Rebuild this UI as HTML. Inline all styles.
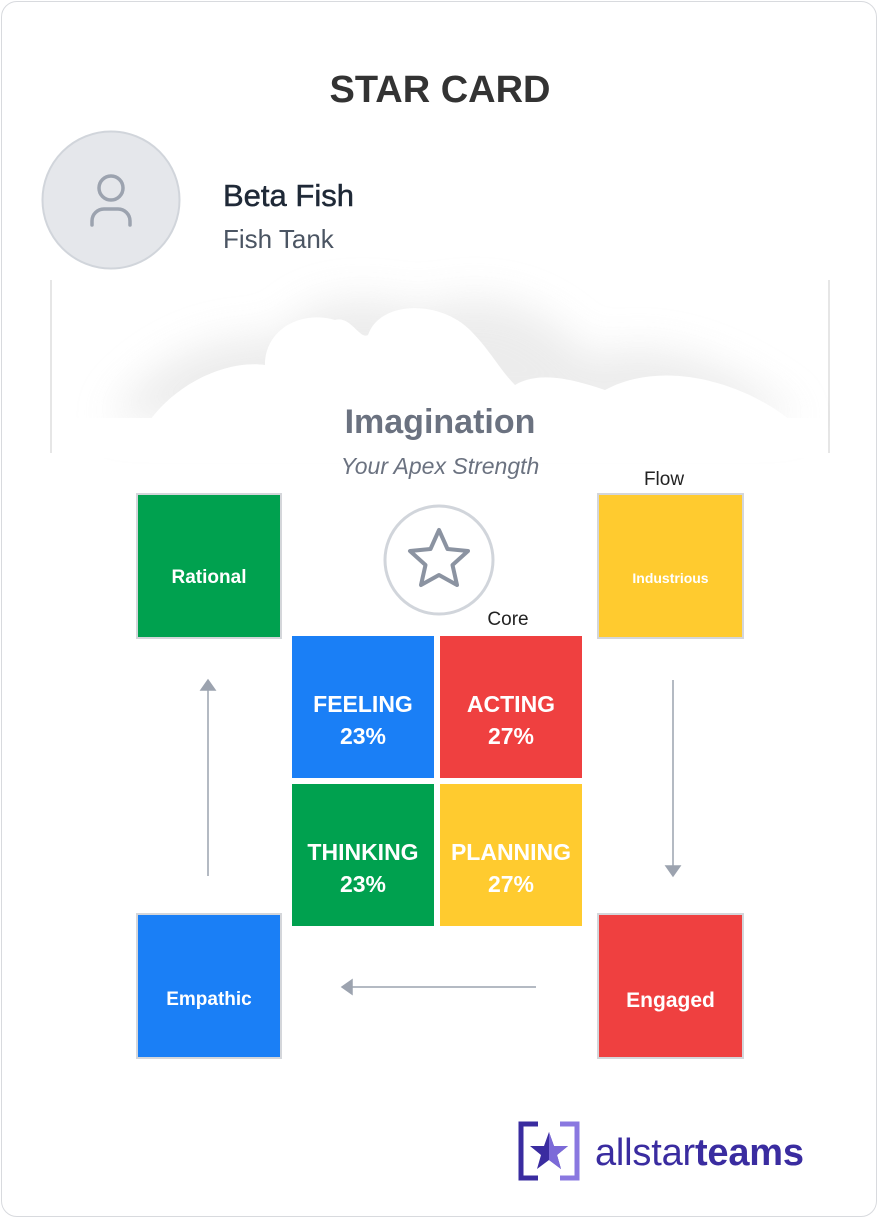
<!DOCTYPE html>
<html><head><style>
body{margin:0;background:#fff;width:880px;height:1220px;position:relative;font-family:"Liberation Sans",sans-serif;overflow:hidden}
.card{position:absolute;left:1px;top:1px;width:876px;height:1216px;border:1px solid #d8dade;border-radius:16px;box-sizing:border-box}
.abs{position:absolute}
.box{position:absolute;display:flex;align-items:center;justify-content:center;color:#fff;font-weight:bold;box-sizing:border-box;border:2px solid #d4d6da;text-align:center;padding-top:24px}
.q{position:absolute;width:142px;height:142px;display:flex;align-items:center;justify-content:center;color:#fff;font-size:23px;font-weight:bold;line-height:32px;text-align:center;padding-top:26px;box-sizing:border-box}
</style></head><body>
<div class="card"></div>
<div class="abs" style="left:0;width:880px;top:69px;text-align:center;font-size:38px;font-weight:bold;color:#333">STAR CARD</div>
<svg class="abs" style="left:0;top:0" width="880" height="1220">
 <defs><filter id="b" x="-20%" y="-50%" width="140%" height="200%"><feGaussianBlur stdDeviation="20"/></filter></defs>
 <circle cx="111" cy="200" r="68.5" fill="#e5e7eb" stroke="#d1d5db" stroke-width="2"/>
 <circle cx="111" cy="188" r="12" fill="none" stroke="#9ca3af" stroke-width="3.5"/>
 <path d="M92 225 v-4 a12 12 0 0 1 12 -12 h14 a12 12 0 0 1 12 12 v4" fill="none" stroke="#9ca3af" stroke-width="3.5" stroke-linecap="round"/>
 <line x1="51" y1="280" x2="51" y2="453" stroke="#ccc"/>
 <line x1="829" y1="280" x2="829" y2="453" stroke="#ccc"/>
 <path d="M110 420 C150 360,220 330,280 340 C300 300,360 290,420 310 C500 280,560 320,590 360 C650 330,740 370,800 420 Z" fill="#e4e4e4" filter="url(#b)" opacity="0.7"/>
 <g fill="#fff">
  <path d="M150 420 C180 380,230 360,265 365 C265 330,300 310,335 320 C350 315,360 340,368 335 C380 300,440 300,470 330 C490 350,500 370,515 385 C540 370,575 380,605 390 C660 360,740 380,790 420 Z"/>
 </g>
 <rect x="52" y="418" width="776" height="40" fill="#fff"/>
 <circle cx="439" cy="560" r="54" fill="#fff" stroke="#d1d5db" stroke-width="3"/>
 <path d="M439 530 L447.5 549 L468 551 L452.5 565 L457 585 L439 575 L421 585 L425.5 565 L410 551 L430.5 549 Z" fill="none" stroke="#8b93a1" stroke-width="4" stroke-linejoin="round"/>
 <g stroke="#9ca3af" stroke-width="1.5" fill="#9ca3af">
  <line x1="208" y1="876" x2="208" y2="688"/><path d="M201 690 L208 680 L215 690 Z"/>
  <line x1="673" y1="680" x2="673" y2="868"/><path d="M666 866 L673 876 L680 866 Z"/>
  <line x1="536" y1="987" x2="350" y2="987"/><path d="M352 980 L342 987 L352 994 Z"/>
 </g>
 <path d="M538 1124 h-17 v54 h17" fill="none" stroke="#3a2ca0" stroke-width="5"/>
 <path d="M560 1124 h17 v54 h-17" fill="none" stroke="#8a78e0" stroke-width="5"/>
 <path d="M549 1132 L554 1146 L568 1146 L557 1155 L561 1169 L549 1160 L537 1169 L541 1155 L530 1146 L544 1146 Z" fill="#3a2ca0"/>
 <path d="M549 1132 L554 1146 L568 1146 L557 1155 L561 1169 L549 1160 Z" fill="#7c6ad8"/>
</svg>
<div class="abs" style="left:223px;top:178px;font-size:31px;color:#1f2937;-webkit-text-stroke:0.5px #1f2937">Beta Fish</div>
<div class="abs" style="left:223px;top:224px;font-size:26px;color:#4b5563">Fish Tank</div>
<div class="abs" style="left:0;width:880px;top:403px;text-align:center;font-size:34px;font-weight:bold;color:#6b7280">Imagination</div>
<div class="abs" style="left:0;width:880px;top:453px;text-align:center;font-size:23px;font-style:italic;color:#6b7280">Your Apex Strength</div>
<div class="abs" style="left:620px;width:88px;top:469px;text-align:center;font-size:19px;color:#222">Flow</div>
<div class="abs" style="left:464px;width:88px;top:609px;text-align:center;font-size:19px;color:#222">Core</div>
<div class="box" style="left:136px;top:493px;width:146px;height:146px;background:#00a14f;font-size:19px">Rational</div>
<div class="box" style="left:597px;top:493px;width:147px;height:146px;background:#ffcb2f;font-size:14px">Industrious</div>
<div class="box" style="left:136px;top:913px;width:146px;height:146px;background:#1a7ff6;font-size:19px;padding-top:28px">Empathic</div>
<div class="box" style="left:597px;top:913px;width:147px;height:146px;background:#ef4040;font-size:21px;padding-top:30px">Engaged</div>
<div class="q" style="left:292px;top:636px;background:#1a7ff6">FEELING<br>23%</div>
<div class="q" style="left:440px;top:636px;background:#ef4040">ACTING<br>27%</div>
<div class="q" style="left:292px;top:784px;background:#00a14f">THINKING<br>23%</div>
<div class="q" style="left:440px;top:784px;background:#ffcb2f">PLANNING<br>27%</div>
<div class="abs" style="left:595px;top:1132px;font-size:38px;color:#3a2ca0;letter-spacing:-0.2px">allstar<b>teams</b></div>
</body></html>
